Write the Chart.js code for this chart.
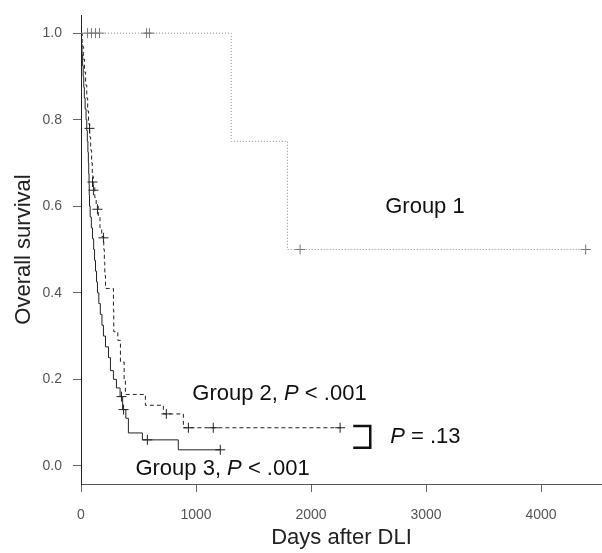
<!DOCTYPE html>
<html>
<head>
<meta charset="utf-8">
<script src="https://cdn.jsdelivr.net/npm/chart.js@4/dist/chart.umd.min.js"></script>
<style>
  html, body { margin: 0; padding: 0; background: #fff; }
  #wrap { width: 602px; height: 553px; }
</style>
</head>
<body>
<div id="wrap"><canvas id="kmChart"></canvas></div>
<script>
// Kaplan-Meier curves (days, survival)
const g1Days = [0, 1306, 1795, 4388];
const g1Surv = [1.0, 0.75, 0.5, 0.5];
const g1CensorDays = [57, 91, 126, 161, 570, 595, 1905, 4388];
const g1CensorSurv = [1.0, 1.0, 1.0, 1.0, 1.0, 1.0, 0.5, 0.5];

const g2Days = [0, 10, 20, 30, 40, 50, 58, 66, 76, 84, 92, 98, 106, 120, 132, 150, 165, 180, 198, 203, 207, 213, 282, 285, 320, 343, 375, 386, 560, 716, 890, 2253];
const g2Surv = [1.0, 0.97, 0.94, 0.91, 0.88, 0.85, 0.82, 0.79, 0.76, 0.73, 0.70, 0.67, 0.645, 0.62, 0.60, 0.575, 0.55, 0.53, 0.50, 0.47, 0.44, 0.41, 0.36, 0.31, 0.29, 0.24, 0.20, 0.165, 0.14, 0.12, 0.088, 0.088];
const g2CensorDays = [74, 100, 108, 143, 195, 742, 934, 1150, 2253];
const g2CensorSurv = [0.78, 0.656, 0.637, 0.593, 0.527, 0.12, 0.088, 0.088, 0.088];

const g3Days = [0, 4, 9, 14, 19, 24, 29, 36, 44, 50, 55, 60, 64, 67, 70, 72, 74, 80, 90, 100, 110, 118, 126, 135, 143, 155, 168, 182, 195, 213, 239, 256, 282, 308, 340, 362, 390, 412, 534, 846, 1211];
const g3Surv = [1.0, 0.975, 0.95, 0.925, 0.90, 0.875, 0.85, 0.825, 0.80, 0.775, 0.75, 0.725, 0.70, 0.675, 0.65, 0.625, 0.60, 0.575, 0.55, 0.525, 0.50, 0.475, 0.45, 0.425, 0.40, 0.375, 0.35, 0.325, 0.30, 0.275, 0.25, 0.22, 0.20, 0.18, 0.16, 0.13, 0.11, 0.076, 0.06, 0.037, 0.037];
const g3CensorDays = [352, 370, 577, 1211];
const g3CensorSurv = [0.16, 0.13, 0.06, 0.037];

const xTicks = [0, 1000, 2000, 3000, 4000];
const yTicks = [0.0, 0.2, 0.4, 0.6, 0.8, 1.0];

const FONT = '"Liberation Sans", Arial, Helvetica, sans-serif';

function pts(xs, ys) {
    return xs.map((x, i) => ({ x: x, y: ys[i] }));
}

function curve(xs, ys, color, dash) {
    return {
        data: pts(xs, ys),
        showLine: true,
        stepped: true,
        borderColor: color,
        borderWidth: 1,
        borderDash: dash,
        pointRadius: 0,
        fill: false
    };
}

function censors(xs, ys, color) {
    return {
        data: pts(xs, ys),
        showLine: false,
        pointStyle: 'cross',
        pointRadius: 5,
        borderColor: color,
        borderWidth: 1,
        pointBorderWidth: 1
    };
}

// text labels, bracket and P values
const labelsPlugin = {
    id: 'kmLabels',
    afterDatasetsDraw(chart) {
        const ctx = chart.ctx;
        const sx = chart.scales.x, sy = chart.scales.y;
        const drawPieces = (day, surv, pieces) => {
            let x = sx.getPixelForValue(day);
            const y = sy.getPixelForValue(surv);
            ctx.save();
            ctx.fillStyle = '#111';
            ctx.textBaseline = 'middle';
            ctx.textAlign = 'left';
            pieces.forEach(([txt, italic]) => {
                ctx.font = (italic ? 'italic ' : '') + '22px ' + FONT;
                ctx.fillText(txt, x, y);
                x += ctx.measureText(txt).width;
            });
            ctx.restore();
        };
        drawPieces(2645, 0.598, [['Group 1', false]]);
        drawPieces(968, 0.166, [['Group 2, ', false], ['P', true], [' < .001', false]]);
        drawPieces(473, -0.007, [['Group 3, ', false], ['P', true], [' < .001', false]]);
        drawPieces(2688, 0.067, [['P', true], [' = .13', false]]);

        // bracket joining group 2 and group 3
        const x0 = sx.getPixelForValue(2367), x1 = sx.getPixelForValue(2515);
        const y0 = sy.getPixelForValue(0.092), y1 = sy.getPixelForValue(0.042);
        ctx.save();
        ctx.strokeStyle = '#111';
        ctx.lineWidth = 2.5;
        ctx.beginPath();
        ctx.moveTo(x0, y0);
        ctx.lineTo(x1, y0);
        ctx.lineTo(x1, y1);
        ctx.lineTo(x0, y1);
        ctx.stroke();
        ctx.restore();
    }
};

new Chart(document.getElementById('kmChart'), {
    type: 'scatter',
    data: {
        datasets: [
            curve(g1Days, g1Surv, '#8a8a8a', [1, 2]),
            censors(g1CensorDays, g1CensorSurv, '#777'),
            curve(g2Days, g2Surv, '#222', [4, 3]),
            censors(g2CensorDays, g2CensorSurv, '#222'),
            curve(g3Days, g3Surv, '#222', []),
            censors(g3CensorDays, g3CensorSurv, '#222')
        ]
    },
    options: {
        responsive: true,
        maintainAspectRatio: false,
        animation: false,
        layout: { autoPadding: false, padding: { top: 15, right: 0, left: 0, bottom: 0 } },
        plugins: {
            legend: { display: false },
            tooltip: { enabled: false }
        },
        scales: {
            x: {
                type: 'linear',
                min: 0,
                max: 4530,
                afterBuildTicks: (scale) => { scale.ticks = xTicks.map(v => ({ value: v })); },
                afterFit: (scale) => { scale.height = 69; scale.paddingLeft = 0; scale.paddingRight = 0; },
                border: { display: true, color: '#555', width: 1 },
                grid: { display: true, drawOnChartArea: false, drawTicks: true, tickLength: 8, color: '#666' },
                ticks: {
                    padding: 15,
                    color: '#555',
                    font: { family: FONT, size: 14 },
                    maxRotation: 0,
                    callback: (v) => String(v)
                },
                title: {
                    display: true,
                    text: 'Days after DLI',
                    color: '#222',
                    font: { family: FONT, size: 22 },
                    padding: { top: 0, bottom: 2 }
                }
            },
            y: {
                min: -0.042,
                max: 1.042,
                afterBuildTicks: (scale) => { scale.ticks = yTicks.map(v => ({ value: v })); },
                afterFit: (scale) => { scale.width = 81; scale.paddingTop = 0; scale.paddingBottom = 0; },
                border: { display: true, color: '#222', width: 1 },
                grid: { display: true, drawOnChartArea: false, drawTicks: true, tickLength: 8, color: '#666' },
                ticks: {
                    padding: 11,
                    color: '#555',
                    font: { family: FONT, size: 14 },
                    callback: (v) => Number(v).toFixed(1)
                },
                title: {
                    display: true,
                    text: 'Overall survival',
                    color: '#222',
                    font: { family: FONT, size: 22 },
                    padding: { top: 11, bottom: 0 }
                }
            }
        }
    },
    plugins: [labelsPlugin]
});
</script>
</body>
</html>
